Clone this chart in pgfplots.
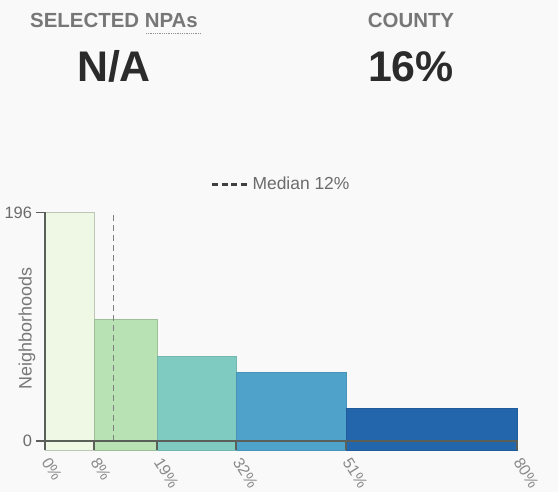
\documentclass[border=0pt]{standalone}
\usepackage{pgfplots}
\pgfplotsset{compat=1.18}
\usepackage{fontspec}
\setmainfont{Liberation Sans}
\definecolor{bg}{HTML}{F9F9F9}
\definecolor{hdr}{HTML}{777777}
\definecolor{big}{HTML}{2B2B2B}
\definecolor{lbl}{HTML}{8A8A8A}
\definecolor{axc}{HTML}{5A5F5A}
\definecolor{cA}{HTML}{EEF8E4}
\definecolor{cB}{HTML}{B8E1B4}
\definecolor{cC}{HTML}{80CBC1}
\definecolor{cD}{HTML}{4FA3CB}
\definecolor{cE}{HTML}{2466AC}
\begin{document}
\begin{tikzpicture}[x=1bp,y=1bp]
\fill[bg] (0,0) rectangle (558,492);
\useasboundingbox (0,0) rectangle (558,492);
\node[anchor=base, inner sep=0pt, text=hdr, font=\bfseries\fontsize{20.5}{21}\selectfont] at (114,464.5) {SELECTED NPAs};
\draw[hdr!80, densely dotted, line width=0.8bp] (146,458.5) -- (201,458.5);
\node[anchor=base, inner sep=0pt, text=big, font=\bfseries\fontsize{43}{44}\selectfont] at (114,410.5) {N/A};
\node[anchor=base, inner sep=0pt, text=hdr, font=\bfseries\fontsize{20.5}{21}\selectfont] at (411,464.5) {COUNTY};
\node[anchor=base, inner sep=0pt, text=big, font=\bfseries\fontsize{43}{44}\selectfont] at (411,410.5) {16\%};
\begin{axis}[
  at={(45bp,41.5bp)}, anchor=south west,
  scale only axis, width=472bp, height=238bp,
  xmin=0, xmax=80, ymin=-8.2, ymax=196,
  axis line style={draw=none},
  axis on top,
  xtick={0,8.3,19,32.4,51,80},
  xticklabels={0\%,8\%,19\%,32\%,51\%,80\%},
  ytick={0,196},
  xtick pos=bottom, ytick pos=left,
  xtick align=inside, ytick align=outside,
  major tick length=9.5bp,
  tick style={axc, line width=1.4bp},
  /pgf/number format/assume math mode=true,
  xticklabel style={xshift=-1bp, yshift=-6bp, rotate=-58, anchor=west, font=\fontsize{16}{16}\selectfont, text=lbl},
  yticklabel style={font=\fontsize{16.5}{17}\selectfont, text=hdr!90!black},
  ylabel={Neighborhoods},
  ylabel style={at={(axis description cs:-0.038,0.513)}, anchor=center, rotate=0, font=\fontsize{18}{18}\selectfont, text=hdr},
  legend style={draw=none, fill=none, at={(0.5,1.118)}, anchor=center, font=\fontsize{17.5}{17.5}\selectfont, text=hdr!90!black, inner sep=0pt},
  legend cell align=left,
  clip=false,
]
\addplot[fill=cA, draw=cA!80!black, line width=0.4bp, forget plot] coordinates {(0,-8.2) (0,196) (8.3,196) (8.3,-8.2)} -- cycle;
\addplot[fill=cB, draw=cB!85!black, line width=0.4bp, forget plot] coordinates {(8.3,-8.2) (8.3,104.6) (19,104.6) (19,-8.2)} -- cycle;
\addplot[fill=cC, draw=cC!90!black, line width=0.4bp, forget plot] coordinates {(19,-8.2) (19,72.3) (32.4,72.3) (32.4,-8.2)} -- cycle;
\addplot[fill=cD, draw=cD!90!black, line width=0.4bp, forget plot] coordinates {(32.4,-8.2) (32.4,58.9) (51,58.9) (51,-8.2)} -- cycle;
\addplot[fill=cE, draw=cE!90!black, line width=0.4bp, forget plot] coordinates {(51,-8.2) (51,28) (80,28) (80,-8.2)} -- cycle;
\addplot[color=black!50, line width=1.6bp, dash pattern=on 6bp off 4bp,
  legend image code/.code={\draw[color=black!75, line width=3bp, dash pattern=on 6bp off 3.5bp] (0bp,0bp) -- (37bp,0bp);}]
  coordinates {(11.6,0) (11.6,196)};
\addlegendentry{Median 12\%}
\draw[axc, line width=1.8bp] (axis cs:0,0) -- (axis cs:80.2,0);
\draw[axc, line width=1.5bp] (axis cs:0,-8.2) -- (axis cs:0,196);
\end{axis}
\end{tikzpicture}
\end{document}
